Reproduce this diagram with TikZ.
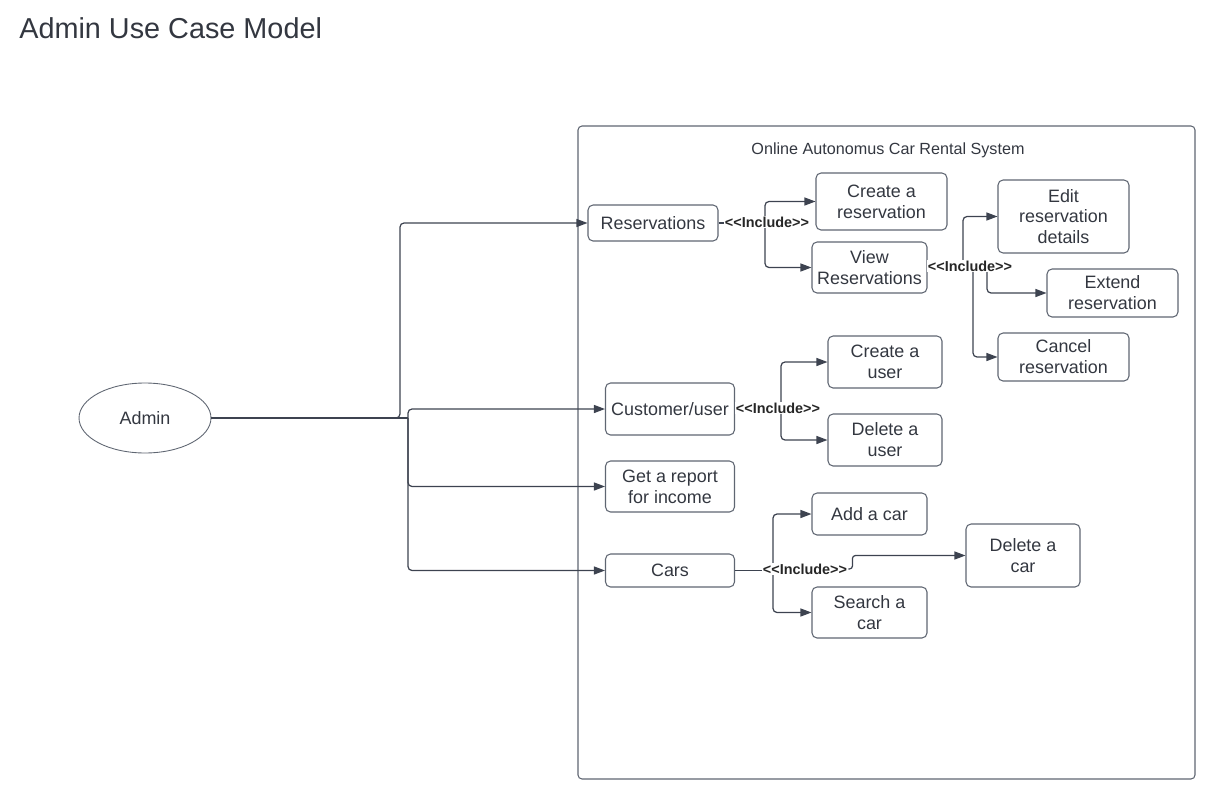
\documentclass[tikz,border=0pt]{standalone}
\usepackage{fontspec}
\setmainfont{Liberation Sans}
\usetikzlibrary{arrows.meta,shapes.geometric}
\definecolor{linec}{HTML}{3D4350}
\definecolor{boxc}{HTML}{5F6672}
\definecolor{txtc}{HTML}{333740}
\newcommand{\inclabel}{{<}{<}Include{>}{>}}
\begin{document}
\begin{tikzpicture}[x=0.02cm,y=-0.02cm,
  box/.style={draw=boxc, line width=0.6pt, rounded corners=0.1cm, align=center, inner sep=0pt, text=txtc, font=\fontsize{10.2}{11.9}\selectfont},
  conn/.style={draw=linec, line width=0.7pt, rounded corners=0.08cm, -{Triangle[length=0.22cm,width=0.16cm]}},
  plain/.style={draw=linec, line width=0.7pt, rounded corners=0.08cm},
  incl/.style={fill=white, inner sep=0.6pt, font=\bfseries\fontsize{8.2}{9}\selectfont, text=black!85}]
\useasboundingbox (0,0) rectangle (1232,805);

% title
\node[anchor=west, inner sep=0pt, text=txtc, font=\fontsize{16.4}{18}\selectfont] (title) at (19,28) {Admin Use Case Model};

% system boundary
\draw[boxc, line width=0.6pt, rounded corners=0.08cm] (578,126) rectangle (1195,779);
\node[text=txtc, font=\fontsize{9.2}{11}\selectfont] (sys) at (888,150) {Online Autonomus Car Rental System};

% actor
\node[ellipse, draw=boxc, line width=0.5pt, minimum width=2.64cm, minimum height=1.4cm, text=txtc, font=\fontsize{10.2}{11.9}\selectfont] (admin) at (145,418) {Admin};

% use cases
\node[box, minimum width=2.6cm,  minimum height=0.72cm] (res)   at (653,223)    {Reservations};
\node[box, minimum width=2.62cm, minimum height=1.14cm] (cres)  at (881.5,201.5) {Create a\\reservation};
\node[box, minimum width=2.3cm,  minimum height=1.02cm] (vres)  at (869.5,267.5) {View\\Reservations};
\node[box, minimum width=2.62cm, minimum height=1.46cm] (edit)  at (1063.5,216.5) {Edit\\reservation\\details};
\node[box, minimum width=2.62cm, minimum height=0.96cm] (ext)   at (1112.5,293) {Extend\\reservation};
\node[box, minimum width=2.62cm, minimum height=0.96cm] (canc)  at (1063.5,357) {Cancel\\reservation};
\node[box, minimum width=2.58cm, minimum height=1.04cm] (cust)  at (670,409)    {Customer/user};
\node[box, minimum width=2.28cm, minimum height=1.04cm] (cuser) at (885,362)    {Create a\\user};
\node[box, minimum width=2.28cm, minimum height=1.04cm] (duser) at (885,440)    {Delete a\\user};
\node[box, minimum width=2.58cm, minimum height=1.02cm] (rep)   at (670,486.5)  {Get a report\\for income};
\node[box, minimum width=2.3cm,  minimum height=0.84cm] (addc)  at (869.5,514)  {Add a car};
\node[box, minimum width=2.58cm, minimum height=0.66cm] (cars)  at (670,570.5)  {Cars};
\node[box, minimum width=2.28cm, minimum height=1.26cm] (delc)  at (1023,555.5) {Delete a\\car};
\node[box, minimum width=2.3cm,  minimum height=1.02cm] (srch)  at (869.5,612.5) {Search a\\car};

% junctions
\coordinate (ja) at (400,418);
\coordinate (j1) at (408,418);
\coordinate (jr) at (765,223);
\coordinate (jv1) at (963,267);
\coordinate (jv2) at (973,267);
\coordinate (jv3) at (987,267);
\coordinate (jc) at (781,409);
\coordinate (jk) at (773,570.5);

% admin associations
\draw[conn] (admin.east) -- (ja) |- (res.west);
\draw[plain] (admin.east) -- (j1);
\draw[conn] (j1) |- (cust.west);
\draw[conn] (j1) |- (rep.west);
\draw[conn] (j1) |- (cars.west);

% reservations include
\draw[plain] (res.east) -- (jr);
\draw[conn] (jr) |- (cres.west);
\draw[conn] (jr) |- (vres.west);
\node[incl] (i1) at (767,222) {\inclabel};

% view reservations include
\draw[plain] (vres.east) -- (jv3);
\draw[conn] (jv1) |- (edit.west);
\draw[conn] (jv2) |- (canc.west);
\draw[conn] (jv3) |- (ext.west);
\node[incl] (i2) at (970,266) {\inclabel};

% customer include
\draw[plain] (cust.east) -- (jc);
\draw[conn] (jc) |- (cuser.west);
\draw[conn] (jc) |- (duser.west);
\node[incl] (i3) at (778,408) {\inclabel};

% cars include
\draw[plain] (cars.east) -- (jk);
\draw[conn] (jk) |- (addc.west);
\draw[conn] (jk) |- (srch.west);
\node[incl] (i4) at (805,569) {\inclabel};
\draw[conn, rounded corners=0.06cm] (i4.east) -- ++(4,0) |- (delc.west);
\end{tikzpicture}
\end{document}
